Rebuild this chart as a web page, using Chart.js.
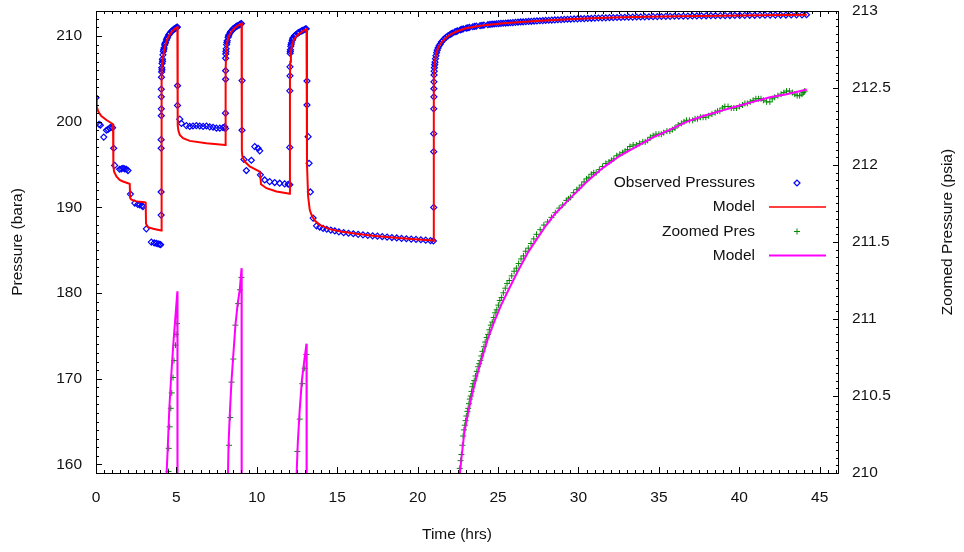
<!DOCTYPE html>
<html><head><meta charset="utf-8">
<script src="https://cdn.jsdelivr.net/npm/chart.js@4.4.1/dist/chart.umd.min.js"></script>
<style>html,body{margin:0;padding:0;background:#fff;overflow:hidden}#wrap{width:964px;height:552px;position:relative}</style>
</head><body><div id="wrap"><canvas id="c" width="964" height="552"></canvas></div>
<script>
// ---------- tick labels ----------
const xTickLabels = [0,5,10,15,20,25,30,35,40,45];
const yTickLabels = [160,170,180,190,200,210];
const y2TickLabels = [210,210.5,211,211.5,212,212.5,213];

// ---------- Observed Pressures (bara, left axis) ----------
const obsTime = [
 0.00,0.19,0.27,0.48,0.65,0.75,0.85,0.96,1.03,1.10,1.16,1.47,1.58,1.68,1.78,1.89,1.99,2.14,2.41,2.60,2.72,2.85,2.92,3.13,3.44,3.62,3.75,3.86,3.96,4.02,
 4.05,4.05,4.05,4.05,4.06,4.06,4.06,4.06,4.07,4.08,4.09,4.11,4.13,4.16,4.19,4.23,4.27,4.32,4.38,4.44,4.51,4.59,4.67,4.76,4.85,4.94,5.02,5.06,
 4.10,4.14,4.21,4.29,4.41,4.55,4.71,4.90,4.98,
 5.07,5.07,5.21,5.31,5.62,5.83,6.03,6.24,6.45,6.66,6.87,7.07,7.28,7.49,7.70,7.90,8.00,
 8.05,8.05,8.06,8.06,8.06,8.07,8.09,8.12,8.16,8.21,8.27,8.34,8.42,8.51,8.61,8.71,8.81,8.91,8.99,9.04,
 8.08,8.14,8.24,8.38,8.56,8.76,8.95,
 9.08,9.08,9.20,9.35,9.66,9.87,10.08,10.18,10.22,10.49,10.80,11.11,11.42,11.73,11.95,12.05,
 12.05,12.05,12.06,12.06,12.07,12.09,12.11,12.15,12.20,12.26,12.34,12.43,12.53,12.64,12.76,12.88,12.99,13.07,
 12.08,12.13,12.23,12.38,12.58,12.82,13.03,
 13.12,13.12,13.19,13.25,13.33,13.50,13.71,13.91,14.12,14.35,14.60,14.85,15.10,15.40,15.70,16.00,16.30,16.60,16.90,17.20,17.50,17.80,18.10,18.40,18.70,19.00,19.30,19.60,19.90,20.20,20.50,20.80,20.98,
 21.00,21.00,21.00,21.00,21.01,21.01,21.01,21.02,21.03,21.04,21.06,21.08,21.11,21.14,21.18,21.22,21.27,21.33,21.40,21.48,21.57,21.67,21.78,21.90,22.03,22.17,22.32,22.48,22.65,22.83,23.02,23.22,23.43,23.65,23.88,24.12,24.37,
 24.63,24.90,25.18,25.47,25.77,26.08,26.40,26.73,27.07,27.42,27.78,28.15,28.53,28.92,29.32,29.73,30.15,30.58,31.02,31.47,31.93,32.40,32.88,33.37,33.87,34.38,34.90,35.43,35.97,36.52,37.08,37.65,38.23,38.82,39.42,40.03,40.65,41.28,41.92,42.57,43.23,43.90,44.18,
 22.10,22.40,22.74,23.12,23.54,24.00,
 24.50,24.76,25.04,25.32,25.62,25.92,26.24,26.56,26.90,27.24,27.60,27.96,28.34,28.72,29.12,29.52,29.94,30.36,30.80,31.24,31.70,32.16,32.64,33.12,33.62,34.12,34.64,35.16,35.70,36.24,36.80,37.36,37.94,38.52,39.12,39.72,40.34,40.96,41.60,42.24,42.90,43.56
];
const obsPres = [
 202.8,199.7,199.6,198.2,199.0,199.1,199.25,199.4,199.3,196.9,194.9,194.45,194.5,194.57,194.5,194.45,194.3,191.55,190.5,190.35,190.3,190.2,190.1,187.5,185.95,185.85,185.8,185.75,185.7,185.65,
 189.1,191.8,196.9,197.9,200.7,201.5,202.9,203.8,205.2,205.8,206.3,206.8,207.3,207.8,208.2,208.6,208.95,209.25,209.55,209.85,210.1,210.3,210.5,210.65,210.8,210.9,211.0,211.05,
 206.05,207.05,208.4,209.1,209.7,210.2,210.57,210.85,210.95,
 204.2,201.9,200.3,199.8,199.55,199.45,199.5,199.55,199.5,199.45,199.5,199.4,199.35,199.25,199.25,199.3,199.4,
 199.2,201.0,204.95,205.95,207.4,207.9,208.5,209.0,209.45,209.85,210.15,210.4,210.6,210.8,210.95,211.1,211.2,211.3,211.38,211.45,
 208.2,209.25,210.0,210.5,210.88,211.15,211.35,
 204.8,199.0,195.6,194.3,195.5,197.1,196.9,196.6,193.8,193.2,193.0,192.9,192.82,192.74,192.7,192.65,
 197.0,203.6,205.35,206.4,207.98,208.4,208.8,209.2,209.5,209.8,210.0,210.15,210.3,210.45,210.58,210.68,210.77,210.85,
 208.2,209.0,209.65,210.08,210.38,210.63,210.82,
 204.75,201.95,198.25,195.15,191.8,188.75,187.85,187.7,187.55,187.45,187.35,187.25,187.15,187.05,186.98,186.92,186.85,186.8,186.74,186.68,186.64,186.58,186.53,186.48,186.43,186.38,186.34,186.3,186.26,186.22,186.17,186.12,186.08,
 190.0,196.5,198.6,201.5,202.9,203.85,204.65,205.45,205.9,206.3,206.65,206.95,207.35,207.7,208.05,208.35,208.6,208.85,209.05,209.3,209.5,209.7,209.88,210.05,210.2,210.35,210.48,210.6,210.72,210.83,210.92,211.0,211.08,211.15,211.21,211.27,211.32,
 211.38,211.43,211.47,211.51,211.55,211.6,211.64,211.68,211.72,211.76,211.8,211.84,211.88,211.92,211.96,211.99,212.02,212.05,212.08,212.11,212.14,212.16,212.19,212.21,212.23,212.25,212.27,212.29,212.31,212.32,212.34,212.35,212.37,212.38,212.39,212.40,212.42,212.43,212.44,212.45,212.46,212.47,212.48,
 210.28,210.54,210.78,210.96,211.12,211.24,
 211.35,211.40,211.45,211.49,211.53,211.57,211.62,211.66,211.70,211.74,211.78,211.82,211.86,211.90,211.94,211.97,212.00,212.03,212.07,212.10,212.12,212.15,212.17,212.20,212.22,212.24,212.26,212.28,212.30,212.31,212.33,212.34,212.36,212.37,212.38,212.40,212.41,212.42,212.43,212.44,212.45,212.47
];

// ---------- Model (bara, left axis) ----------
const modelTime = [
 0.00,0.03,0.06,0.14,0.33,0.65,1.06,1.08,1.12,1.27,1.47,1.68,1.99,2.10,2.12,2.20,2.51,3.03,3.09,3.11,3.23,3.55,4.05,
 4.06,4.10,4.15,4.21,4.27,4.33,4.48,4.69,4.90,5.06,
 5.08,5.12,5.21,5.41,5.83,6.86,8.04,
 8.06,8.09,8.11,8.15,8.22,8.32,8.45,8.63,8.85,9.05,
 9.07,9.10,9.25,9.56,9.97,10.18,10.22,10.26,10.60,11.22,12.05,
 12.06,12.08,12.12,12.20,12.30,12.45,12.60,12.87,13.09,
 13.12,13.19,13.29,13.40,13.60,13.91,14.53,15.30,16.19,17.20,18.26,19.60,20.97,
 21.00,21.01,21.03,21.06,21.10,21.16,21.25,21.37,21.55,21.80,22.10,22.50,23.00,23.60,24.30,25.20,26.20,27.40,28.80,30.40,32.20,34.20,36.40,38.80,41.40,44.20
];
const modelPres = [
 203.12,202.3,201.76,201.18,200.67,200.2,199.71,194.8,194.2,193.6,193.21,193.02,192.82,192.74,191.1,190.9,190.7,190.6,190.55,188.1,187.7,187.5,187.3,
 204.5,206.2,207.2,208.0,208.6,209.1,209.85,210.45,210.85,211.05,
 199.6,199.0,198.46,198.07,197.76,197.49,197.29,
 206.0,207.8,208.6,209.25,209.8,210.2,210.6,210.95,211.25,211.45,
 196.6,195.93,195.35,194.77,194.38,194.18,193.6,192.7,192.24,191.85,191.58,
 205.0,207.0,208.2,209.0,209.55,209.95,210.2,210.58,210.82,
 195.0,191.27,189.71,189.13,188.47,187.96,187.46,187.15,186.91,186.7,186.52,186.3,186.13,
 186.1,205.4,206.2,206.8,207.4,207.95,208.5,208.95,209.4,209.85,210.25,210.58,210.9,211.12,211.3,211.47,211.6,211.74,211.9,212.04,212.15,212.25,212.32,212.38,212.43,212.48
];

// ---------- Zoomed Pres (psia, right axis) ----------
const zoomTime = [
 4.51,4.52,4.58,4.65,4.71,4.79,4.85,4.94,4.98,5.04,
 8.27,8.35,8.43,8.54,8.67,8.84,8.96,9.04,
 12.52,12.67,12.83,12.98,13.08,
 22.62,22.72,22.83,22.93,23.03,23.14,23.24,23.35,23.45,23.60,23.76,23.90,24.03,24.20,24.38,24.55,24.73,24.92,25.11,25.33,25.56,25.85,26.14,26.43,26.72,27.05,27.39,27.85,28.32,28.80,29.25,29.50,29.90,30.20,30.50,30.80,31.10,31.50,31.90,32.20,32.57,32.90,33.20,33.60,34.00,34.30,34.64,35.00,35.30,35.68,36.00,36.40,36.72,37.10,37.40,37.75,38.10,38.50,38.79,39.10,39.50,39.83,40.20,40.50,40.86,41.20,41.50,41.90,42.20,42.60,42.94,43.30,43.60,43.90,44.07,
 22.67,22.78,22.88,22.98,23.09,23.19,23.30,23.40,23.52,23.68,23.83,23.96,24.12,24.29,24.46,24.64,24.82,25.02,25.22,25.45,25.70,26.00,26.28,26.58,26.88,27.22,27.62,28.08,28.56,29.02,29.38,29.70,30.05,30.35,30.65,30.95,31.30,31.70,32.05,32.38,32.75,33.05,33.40,33.80,34.15,34.47,34.82,35.15,35.50,35.84,36.20,36.56,36.90,37.25,37.58,37.92,38.30,38.65,38.95,39.30,39.66,40.02,40.35,40.68,41.03,41.35,41.70,42.05,42.40,42.77,43.12,43.45,43.75,43.98
];
const zoomPres = [
 210.01,210.16,210.30,210.42,210.52,210.62,210.73,210.83,210.90,210.97,
 210.18,210.36,210.59,210.74,210.96,211.10,211.19,211.27,
 210.14,210.35,210.58,210.68,210.77,
 210.03,210.12,210.24,210.31,210.37,210.42,210.48,210.53,210.58,210.63,210.69,210.73,210.79,210.85,210.90,210.96,211.01,211.06,211.12,211.17,211.23,211.28,211.33,211.39,211.44,211.49,211.55,211.61,211.66,211.72,211.77,211.79,211.84,211.87,211.91,211.94,211.95,211.99,212.02,212.04,212.07,212.09,212.12,212.13,212.15,212.16,212.19,212.20,212.21,212.22,212.24,212.27,212.29,212.29,212.30,212.31,212.32,212.34,212.35,212.38,212.37,212.37,212.39,212.40,212.42,212.43,212.42,212.41,212.44,212.46,212.48,212.47,212.45,212.46,212.48,
 210.08,210.18,210.28,210.34,210.40,210.45,210.50,210.56,210.60,210.66,210.71,210.76,210.82,210.88,210.93,210.98,211.04,211.09,211.14,211.20,211.25,211.31,211.36,211.41,211.46,211.52,211.58,211.63,211.69,211.74,211.78,211.82,211.85,211.89,211.92,211.95,211.97,212.01,212.03,212.06,212.08,212.10,212.13,212.14,212.15,212.18,212.20,212.20,212.22,212.23,212.26,212.28,212.29,212.30,212.31,212.31,212.33,212.35,212.37,212.38,212.37,212.38,212.40,212.41,212.43,212.43,212.41,212.43,212.45,212.47,212.48,212.46,212.45,212.47
];

// ---------- Model (psia, right axis); null = gap ----------
const zoomModelTime = [
 4.37,4.46,4.56,4.67,4.81,4.92,5.06,5.07,5.08,
 8.19,8.24,8.31,8.42,8.52,8.67,8.81,8.94,9.05,9.06,9.07,
 12.44,12.55,12.66,12.80,12.95,13.09,13.10,13.11,
 22.50,22.63,22.75,22.90,23.10,23.32,23.58,23.84,24.10,24.36,24.75,25.19,25.70,26.23,26.85,27.48,28.00,28.51,29.35,30.50,31.50,32.57,33.60,34.64,35.70,36.72,37.80,38.80,39.80,40.86,41.90,42.94,44.20
];
const zoomModelPres = [
 209.95,210.16,210.42,210.62,210.84,210.99,211.18,209.0,null,
 209.9,210.18,210.36,210.59,210.74,210.96,211.10,211.19,211.33,209.0,null,
 209.9,210.2,210.4,210.6,210.73,210.84,209.0,null,
 209.9,210.0,210.12,210.26,210.37,210.48,210.59,210.69,210.78,210.87,210.98,211.09,211.2,211.31,211.43,211.53,211.61,211.68,211.77,211.89,211.98,212.06,212.12,212.18,212.23,212.28,212.32,212.35,212.38,212.41,212.44,212.46,212.49
];

const pairs = (xs, ys) => xs.map((x, i) => ({x: x, y: ys[i]}));

const FONT = {family: "'Liberation Sans', Arial, sans-serif", size: 15.5};
const FONT_CSS = "15.5px 'Liberation Sans', Arial, sans-serif";
const TXT = '#111';

const BLUE = '#0000ff', RED = '#ff0000', GREEN = '#008a00', MAGENTA = '#ff00ff';

const noPad = s => { s.paddingTop = 0; s.paddingBottom = 0; s.paddingLeft = 0; s.paddingRight = 0; };

const decoPlugin = {
  id: 'deco',
  afterDatasetsDraw(chart) {
    const {ctx, chartArea: a, scales} = chart;
    ctx.save();
    // frame
    ctx.strokeStyle = '#000';
    ctx.lineWidth = 1;
    ctx.strokeRect(Math.round(a.left) + 0.5, Math.round(a.top) + 0.5, Math.round(a.right - a.left) - 1, Math.round(a.bottom - a.top));
    // ticks
    ctx.beginPath();
    for (let i = 0; i <= 92; i++) {
      const v = i * 0.5;
      if (v > scales.x.max) break;
      const px = Math.round(scales.x.getPixelForValue(v)) + 0.5;
      const len = (i % 10 === 0) ? 6 : 3;
      ctx.moveTo(px, a.bottom); ctx.lineTo(px, a.bottom - len);
      ctx.moveTo(px, a.top); ctx.lineTo(px, a.top + len);
    }
    for (let v = 159; v <= 212; v++) {
      const py = Math.round(scales.y.getPixelForValue(v)) + 0.5;
      const len = (v % 10 === 0) ? 6 : 3;
      ctx.moveTo(a.left, py); ctx.lineTo(a.left + len, py);
    }
    for (let i = 0; i <= 60; i++) {
      const v = 210 + i * 0.05;
      const py = Math.round(scales.y2.getPixelForValue(v)) + 0.5;
      const len = (i % 10 === 0) ? 6 : 3;
      ctx.moveTo(a.right, py); ctx.lineTo(a.right - len, py);
    }
    ctx.stroke();

    // axis titles
    ctx.fillStyle = TXT;
    ctx.font = FONT_CSS;
    ctx.textAlign = 'center';
    ctx.textBaseline = 'middle';
    ctx.fillText('Time (hrs)', 457, 535);
    ctx.save();
    ctx.translate(18, 242); ctx.rotate(-Math.PI / 2);
    ctx.fillText('Pressure (bara)', 0, 0);
    ctx.restore();
    ctx.save();
    ctx.translate(948, 232); ctx.rotate(-Math.PI / 2);
    ctx.fillText('Zoomed Pressure (psia)', 0, 0);
    ctx.restore();

    // legend
    const rows = [
      {label: chart.data.datasets[0].label, type: 'diamond', color: BLUE, y: 183},
      {label: chart.data.datasets[1].label, type: 'line', color: RED, y: 207},
      {label: chart.data.datasets[2].label, type: 'plus', color: GREEN, y: 231.5},
      {label: chart.data.datasets[3].label, type: 'line', color: MAGENTA, y: 255.5}
    ];
    ctx.textAlign = 'right';
    rows.forEach(r => {
      ctx.fillStyle = TXT;
      ctx.fillText(r.label, 755, r.y);
      ctx.strokeStyle = r.color;
      ctx.beginPath();
      if (r.type === 'line') {
        ctx.lineWidth = r.color === RED ? 1.5 : 2;
        ctx.moveTo(769, r.y); ctx.lineTo(826, r.y);
      } else if (r.type === 'diamond') {
        ctx.lineWidth = 1.2;
        ctx.moveTo(794, r.y); ctx.lineTo(797, r.y - 3); ctx.lineTo(800, r.y); ctx.lineTo(797, r.y + 3); ctx.closePath();
      } else {
        ctx.lineWidth = 1;
        ctx.moveTo(794, r.y); ctx.lineTo(800, r.y); ctx.moveTo(797, r.y - 3); ctx.lineTo(797, r.y + 3);
      }
      ctx.stroke();
    });
    ctx.restore();
  }
};

new Chart(document.getElementById('c'), {
  type: 'scatter',
  data: {
    datasets: [
      {label: 'Observed Pressures', data: pairs(obsTime, obsPres), yAxisID: 'y', showLine: false,
       pointStyle: 'rectRot', pointRadius: 3, borderColor: BLUE, backgroundColor: 'rgba(255,255,255,0)', borderWidth: 1.2, order: 3},
      {label: 'Model', data: pairs(modelTime, modelPres), yAxisID: 'y', showLine: true, pointRadius: 0,
       borderColor: RED, borderWidth: 2, tension: 0, clip: 0, order: 1},
      {label: 'Zoomed Pres', data: pairs(zoomTime, zoomPres), yAxisID: 'y2', showLine: false,
       pointStyle: 'cross', pointRadius: 3, borderColor: GREEN, backgroundColor: GREEN, borderWidth: 1, order: 2},
      {label: 'Model', data: pairs(zoomModelTime, zoomModelPres), yAxisID: 'y2', showLine: true, pointRadius: 0,
       borderColor: MAGENTA, borderWidth: 2, tension: 0, spanGaps: false, clip: 0, order: 0}
    ]
  },
  options: {
    responsive: false,
    animation: false,
    devicePixelRatio: 1,
    layout: {padding: {top: 11, left: 0, right: 0, bottom: 0}},
    plugins: {legend: {display: false}, tooltip: {enabled: false}},
    scales: {
      x: {
        type: 'linear', position: 'bottom', min: 0, max: 46.2,
        afterBuildTicks: s => { s.ticks = xTickLabels.map(v => ({value: v})); },
        afterFit: s => { s.height = 79; noPad(s); },
        grid: {display: false, drawTicks: false}, border: {display: false},
        ticks: {font: FONT, color: TXT, padding: 15, maxRotation: 0, autoSkip: false, callback: v => String(v)}
      },
      y: {
        type: 'linear', position: 'left', min: 159.0, max: 212.92,
        afterBuildTicks: s => { s.ticks = yTickLabels.map(v => ({value: v})); },
        afterFit: s => { s.width = 96; noPad(s); },
        grid: {display: false, drawTicks: false}, border: {display: false},
        ticks: {font: FONT, color: TXT, padding: 14, autoSkip: false, callback: v => String(v)}
      },
      y2: {
        type: 'linear', position: 'right', min: 210, max: 213,
        afterBuildTicks: s => { s.ticks = y2TickLabels.map(v => ({value: v})); },
        afterFit: s => { s.width = 125; noPad(s); },
        grid: {display: false, drawTicks: false}, border: {display: false},
        ticks: {font: FONT, color: TXT, padding: 13, autoSkip: false, callback: v => String(v)}
      }
    }
  },
  plugins: [decoPlugin]
});
</script>
</body></html>
